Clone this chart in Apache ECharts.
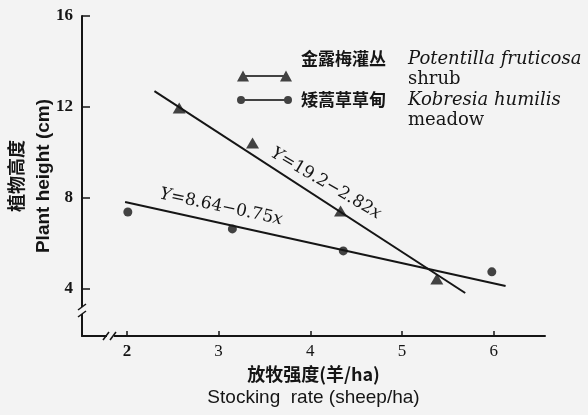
<!DOCTYPE html>
<html>
<head>
<meta charset="utf-8">
<script src="https://cdn.jsdelivr.net/npm/echarts@6.0.0/dist/echarts.min.js"></script>
<style>
  html, body { margin: 0; padding: 0; background: #f3f3f3; }
  #chart { width: 588px; height: 415px; }
</style>
</head>
<body>
<div id="chart"></div>
<script>
// 金露梅灌丛 (triangles)
const shrubX = [2.57, 3.37, 4.33, 5.38];
const shrubY = [11.96, 10.42, 7.43, 4.44];
// 矮蒿草草甸 (dots)
const meadowX = [2.01, 3.15, 4.36, 5.98];
const meadowY = [7.38, 6.64, 5.67, 4.75];
// fitted lines as drawn (end points)
const shrubFitX = [2.30, 5.69];
const shrubFitY = [12.70, 3.82];
const meadowFitX = [1.98, 6.13];
const meadowFitY = [7.82, 4.13];

const xTicks = [2, 3, 4, 5, 6];
const yTicks = [4, 8, 12, 16];

const pairs = (xs, ys) => xs.map((x, i) => [x, ys[i]]);

const ink = '#151515';
const triIcon = 'path://M0,11 L6,0 L12,11 Z M6,4.5 L49,4.5 L49,6.5 L6,6.5 Z M43,11 L49,0 L55,11 Z';
const dotIcon = 'path://M0,4 A4,4 0 1 1 8,4 A4,4 0 1 1 0,4 Z M4,3 L51,3 L51,5 L4,5 Z M47,4 A4,4 0 1 1 55,4 A4,4 0 1 1 47,4 Z';

const legendRich = {
  zh: { fontFamily: 'Noto Sans CJK SC', fontSize: 17, fontWeight: 'bold', color: ink, width: 107, lineHeight: 20 },
  la: { fontFamily: 'DejaVu Serif', fontStyle: 'italic', fontSize: 18, color: ink, lineHeight: 20 },
  ind: { width: 107, lineHeight: 20 },
  en: { fontFamily: 'DejaVu Serif', fontSize: 18, color: ink, lineHeight: 20 },
  top: { fontSize: 10, lineHeight: 20 },
  bot: { fontSize: 10, lineHeight: 14 },
};

const chart = echarts.init(document.getElementById('chart'));
const option = {
  backgroundColor: '#f3f3f3',
  animation: false,
  grid: { left: 82, right: 43, top: 16, bottom: 79, outerBoundsMode: 'none' },
  legend: [{
    orient: 'vertical',
    left: 237,
    top: 50,
    padding: 0,
    data: ['金露梅灌丛'],
    icon: triIcon,
    itemWidth: 55,
    itemHeight: 11,
    selectedMode: false,
    formatter: () => '{zh|金露梅灌丛}{la|Potentilla fruticosa}\n{ind|}{en|shrub}\n{bot| }',
    textStyle: { padding: [0, 0, 0, 4], rich: legendRich },
  }, {
    orient: 'vertical',
    left: 237,
    top: 75,
    padding: 0,
    data: ['矮蒿草草甸'],
    icon: dotIcon,
    itemWidth: 55,
    itemHeight: 8,
    selectedMode: false,
    formatter: () => '{top| }\n{zh|矮蒿草草甸}{la|Kobresia humilis}\n{ind|}{en|meadow}',
    textStyle: { padding: [0, 0, 0, 4], rich: legendRich },
  }],
  xAxis: {
    type: 'value',
    min: 1.51,
    max: 6.56,
    splitLine: { show: false },
    axisLine: { lineStyle: { color: ink, width: 2 } },
    axisTick: { inside: true, length: 5, customValues: xTicks, lineStyle: { color: ink, width: 1.5 } },
    axisLabel: {
      customValues: xTicks,
      margin: 7,
      color: ink,
      fontFamily: 'Liberation Serif',
      fontSize: 17,
      formatter: v => (v === 2 ? '{b|2}' : String(v)),
      rich: { b: { fontFamily: 'Liberation Serif', fontSize: 17, fontWeight: 'bold', color: ink } },
    },
    name: '{zh|放牧强度(羊/ha)}\n{en|Stocking  rate (sheep/ha)}',
    nameLocation: 'middle',
    nameGap: 27,
    nameMoveOverlap: false,
    nameTextStyle: {
      rich: {
        zh: { fontFamily: 'Noto Sans CJK SC', fontSize: 18, fontWeight: 'bold', color: ink, lineHeight: 23 },
        en: { fontFamily: 'Liberation Sans', fontSize: 19, color: ink, lineHeight: 23 },
      },
    },
  },
  yAxis: {
    type: 'value',
    min: 1.93,
    max: 16,
    splitLine: { show: false },
    axisLine: { lineStyle: { color: ink, width: 2 } },
    axisTick: { inside: true, length: 8, customValues: yTicks, lineStyle: { color: ink, width: 1.5 } },
    axisLabel: {
      customValues: yTicks,
      margin: 9,
      color: ink,
      fontFamily: 'Liberation Serif',
      fontSize: 17,
      fontWeight: 'bold',
    },
    name: '{zh|植物高度}\n{en|Plant height (cm)}',
    nameLocation: 'middle',
    nameRotate: 90,
    nameGap: 24,
    nameMoveOverlap: false,
    nameTextStyle: {
      rich: {
        zh: { fontFamily: 'Noto Sans CJK SC', fontSize: 18, fontWeight: 'bold', color: ink, lineHeight: 28 },
        en: { fontFamily: 'Liberation Sans', fontSize: 19, fontWeight: 'bold', color: ink, lineHeight: 28 },
      },
    },
  },
  series: [{
    name: '金露梅灌丛',
    type: 'scatter',
    symbol: 'triangle',
    symbolSize: [13, 11],
    itemStyle: { color: ink },
    data: pairs(shrubX, shrubY),
    z: 3,
  }, {
    name: '矮蒿草草甸',
    type: 'scatter',
    symbol: 'circle',
    symbolSize: 9,
    itemStyle: { color: ink },
    data: pairs(meadowX, meadowY),
    z: 3,
  }, {
    name: 'fitShrub',
    type: 'line',
    showSymbol: false,
    lineStyle: { color: ink, width: 2 },
    data: pairs(shrubFitX, shrubFitY),
  }, {
    name: 'fitMeadow',
    type: 'line',
    showSymbol: false,
    lineStyle: { color: ink, width: 2 },
    data: pairs(meadowFitX, meadowFitY),
  }],
  graphic: [
    // regression equations
    {
      type: 'text', x: 272, y: 152, rotation: -0.53, z: 10,
      style: {
        text: '{i|Y}{n|=19.2−2.82}{i|x}',
        verticalAlign: 'middle',
        rich: {
          i: { fontFamily: 'DejaVu Serif', fontStyle: 'italic', fontSize: 17, fill: ink },
          n: { fontFamily: 'DejaVu Serif', fontSize: 17, fill: ink },
        },
      },
    },
    {
      type: 'text', x: 160, y: 194, rotation: -0.21, z: 10,
      style: {
        text: '{i|Y}{n|=8.64−0.75}{i|x}',
        verticalAlign: 'middle',
        rich: {
          i: { fontFamily: 'DejaVu Serif', fontStyle: 'italic', fontSize: 17, fill: ink },
          n: { fontFamily: 'DejaVu Serif', fontSize: 17, fill: ink },
        },
      },
    },
    // axis break marks
    { type: 'rect', shape: { x: 78, y: 307, width: 8, height: 7 }, style: { fill: '#f3f3f3' }, z: 10 },
    { type: 'line', shape: { x1: 78, y1: 310, x2: 86, y2: 304 }, style: { stroke: ink, lineWidth: 1.5 }, z: 11 },
    { type: 'line', shape: { x1: 78, y1: 317, x2: 86, y2: 311 }, style: { stroke: ink, lineWidth: 1.5 }, z: 11 },
    { type: 'rect', shape: { x: 107, y: 332, width: 7, height: 8 }, style: { fill: '#f3f3f3' }, z: 10 },
    { type: 'line', shape: { x1: 103, y1: 340, x2: 109, y2: 332 }, style: { stroke: ink, lineWidth: 1.5 }, z: 11 },
    { type: 'line', shape: { x1: 110, y1: 340, x2: 116, y2: 332 }, style: { stroke: ink, lineWidth: 1.5 }, z: 11 },
  ],
};
chart.setOption(option);
</script>
</body>
</html>
